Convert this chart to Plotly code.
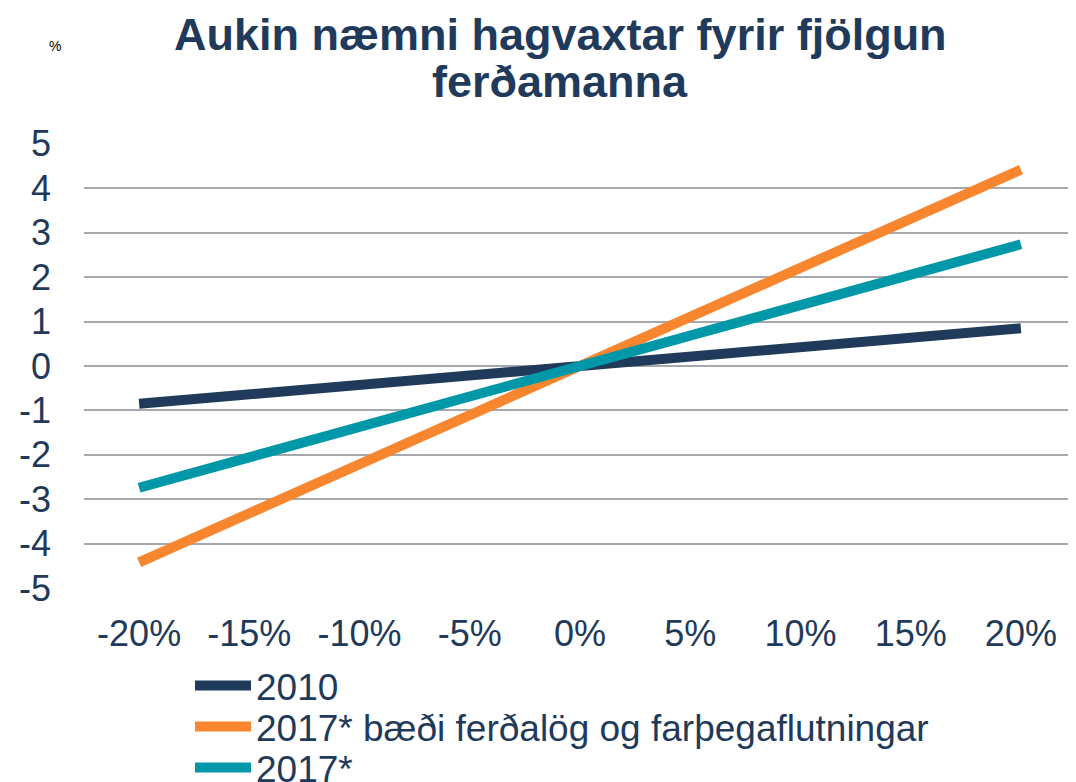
import plotly.graph_objects as go

categories = ["-20%", "-15%", "-10%", "-5%", "0%", "5%", "10%", "15%", "20%"]
s2010 = [-0.85, -0.64, -0.42, -0.21, 0.0, 0.21, 0.42, 0.64, 0.85]
s2017_both = [-4.42, -3.32, -2.21, -1.11, 0.0, 1.11, 2.21, 3.32, 4.42]
s2017 = [-2.74, -2.06, -1.37, -0.69, 0.0, 0.69, 1.37, 2.06, 2.74]
names = ["2010", "2017* bæði ferðalög og farþegaflutningar", "2017*"]
colors = ["#1F3A5A", "#F8862F", "#0097A8"]
y_tickvals = [-5, -4, -3, -2, -1, 0, 1, 2, 3, 4, 5]
y_ticktext = ["-5", "-4", "-3", "-2", "-1", "0", "1", "2", "3", "4", "5"]
title_lines = ["Aukin næmni hagvaxtar fyrir fjölgun", "ferðamanna"]

NAVY = "#1F3A5A"
FONT = "Liberation Sans, Arial, sans-serif"
OFF = 8  # page body margin in the browser
W, H = 1076 - OFF, 782 - OFF
L, R, T, B = 84 - OFF, 0, 143 - OFF, 782 - 589
PW, PH = W - L - R, H - T - B


def px(x):
    """reference page x-pixel -> paper coordinate"""
    return (x - OFF - L) / PW


def py(y):
    """reference page y-pixel -> paper coordinate"""
    return (H - B - (y - OFF)) / PH


fig = go.Figure()
legend_ids = ["legend", "legend2", "legend3"]
legend_tops = [655, 696, 737]
for name, vals, col, lid in zip(names, [s2010, s2017_both, s2017], colors, legend_ids):
    fig.add_trace(go.Scatter(x=categories, y=vals, name=name, mode="lines",
                             line=dict(color=col, width=10), legend=lid))

leg_common = dict(xanchor="left", yanchor="top", bgcolor="rgba(0,0,0,0)",
                  font=dict(family=FONT, size=37, color=NAVY), itemwidth=56)
fig.update_layout(
    width=W, height=H,
    paper_bgcolor="white", plot_bgcolor="white",
    margin=dict(l=L, r=R, t=T, b=B, autoexpand=False),
    font=dict(family=FONT, color=NAVY, size=36),
    showlegend=True,
    legend=dict(x=px(190), y=py(legend_tops[0]), **leg_common),
    legend2=dict(x=px(190), y=py(legend_tops[1]), **leg_common),
    legend3=dict(x=px(190), y=py(legend_tops[2]), **leg_common),
)

fig.add_annotation(text="<b>" + title_lines[0] + "</b>", xref="paper", yref="paper",
                   x=px(560), y=py(35), xanchor="center", yanchor="middle",
                   showarrow=False, font=dict(size=45, color=NAVY, family=FONT))
fig.add_annotation(text="<b>" + title_lines[1] + "</b>", xref="paper", yref="paper",
                   x=px(560), y=py(81), xanchor="center", yanchor="middle",
                   showarrow=False, font=dict(size=45, color=NAVY, family=FONT))
fig.add_annotation(text="%", xref="paper", yref="paper",
                   x=px(55), y=py(46), xanchor="center", yanchor="middle",
                   showarrow=False, font=dict(size=14, color="black", family=FONT))

fig.update_xaxes(type="category", range=[-0.5, 8.5], showgrid=False, zeroline=False,
                 showline=False, ticks="", ticklabelstandoff=20,
                 tickfont=dict(size=36, color=NAVY, family=FONT))
fig.update_yaxes(range=[-5.02, 5.02], tickvals=y_tickvals, ticktext=y_ticktext,
                 showgrid=True, gridcolor="#A6A8AD", gridwidth=1.5, zeroline=False,
                 showline=False, ticks="", ticklabelstandoff=32,
                 tickfont=dict(size=36, color=NAVY, family=FONT))

fig.write_html("out.html")
